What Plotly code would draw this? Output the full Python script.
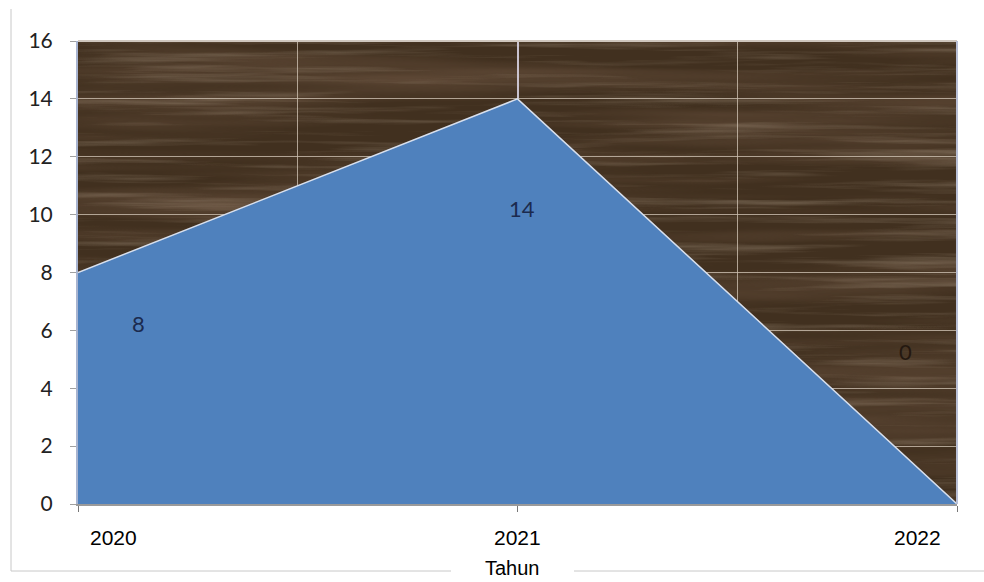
import base64
import plotly.graph_objects as go

# ---- data ----
years = ["2020", "2021", "2022"]
values = [8, 14, 0]
y_ticks = [0, 2, 4, 6, 8, 10, 12, 14, 16]
x_title = "Tahun"

idx = list(range(len(years)))

# wood-grain background as an SVG texture (decoration only)
svg = (
    "<svg xmlns='http://www.w3.org/2000/svg' width='879' height='463' preserveAspectRatio='none'>"
    "<filter id='f' x='0' y='0' width='100%' height='100%'>"
    "<feTurbulence type='fractalNoise' baseFrequency='0.004 0.12' numOctaves='4' seed='7'/>"
    "<feColorMatrix type='matrix' values='0 0 0 0 0.55  0 0 0 0 0.45  0 0 0 0 0.34  2.0 0 0 0 -1.0'/>"
    "</filter>"
    "<filter id='g' x='0' y='0' width='100%' height='100%'>"
    "<feTurbulence type='fractalNoise' baseFrequency='0.002 0.04' numOctaves='3' seed='3'/>"
    "<feColorMatrix type='matrix' values='0 0 0 0 0.12  0 0 0 0 0.07  0 0 0 0 0.04  2.0 0 0 0 -0.8'/>"
    "</filter>"
    "<rect width='879' height='463' fill='#41301f'/>"
    "<rect width='879' height='463' filter='url(#g)' opacity='0.85'/>"
    "<rect width='879' height='463' filter='url(#f)' opacity='0.4'/>"
    "</svg>"
)
img_src = "data:image/svg+xml;base64," + base64.b64encode(svg.encode()).decode()

fig = go.Figure()
fig.add_trace(go.Scatter(
    x=idx, y=values, mode="lines", fill="tozeroy",
    fillcolor="#4f81bd", line=dict(color="#d8e0ee", width=1.5),
    hoverinfo="skip", showlegend=False,
))

# data labels (Excel-style placement offsets)
label_shift = [(60, -51), (4, -110), (-52, 153)]
label_color = ["#1b2a4e", "#1b2a4e", "#241810"]
for i, (v, (dx, dy), c) in enumerate(zip(values, label_shift, label_color)):
    fig.add_annotation(x=idx[i], y=v, text=str(v), showarrow=False,
                       xshift=dx, yshift=dy, xref="x", yref="y",
                       font=dict(family="Lato", size=22, color=c))

# category labels
cat_anchor = [("left", 10), ("center", 0), ("right", -14)]
for i, (name, (anc, dx)) in enumerate(zip(years, cat_anchor)):
    fig.add_annotation(x=idx[i], y=0, text=name, showarrow=False, xref="x", yref="y",
                       xanchor=anc, yanchor="middle", xshift=dx, yshift=-33,
                       font=dict(family="Liberation Sans, Arial", size=21, color="#000000"))

# outer chart border (left and bottom, with a gap for the axis title)
def px(xp):
    return (xp - 78) / 879

def py(yp):
    return (504 - yp) / 463

border = dict(color="#c8c8c8", width=1)
fig.add_shape(type="line", xref="paper", yref="paper",
              x0=px(11), x1=px(11), y0=py(9), y1=py(571), line=border)
fig.add_shape(type="line", xref="paper", yref="paper",
              x0=px(11), x1=px(451), y0=py(571), y1=py(571), line=border)
fig.add_shape(type="line", xref="paper", yref="paper",
              x0=px(574), x1=px(984), y0=py(571), y1=py(571), line=border)

fig.add_annotation(x=px(512), y=py(568), xref="paper", yref="paper", text=x_title,
                   showarrow=False, yanchor="middle",
                   font=dict(family="Liberation Sans, Arial", size=20, color="#000000"))

fig.add_layout_image(dict(source=img_src, xref="paper", yref="paper", x=0, y=1,
                          sizex=1, sizey=1, sizing="stretch", xanchor="left",
                          yanchor="top", layer="below"))

fig.update_layout(
    width=984, height=582,
    margin=dict(l=78, r=27, t=41, b=78),
    paper_bgcolor="#ffffff", plot_bgcolor="rgba(0,0,0,0)",
    xaxis=dict(range=[0, 2], tickvals=idx, showticklabels=False,
               showgrid=True, gridcolor="rgba(215,210,225,0.9)", gridwidth=1.5,
               minor=dict(tickvals=[0.5, 1.5], showgrid=True, gridcolor="rgba(205,192,178,0.8)", gridwidth=1),
               ticks="outside", ticklen=6, tickcolor="#777777",
               showline=True, linecolor="#9a9a9a", linewidth=2, mirror=False,
               zeroline=False, fixedrange=True),
    yaxis=dict(range=[0, 16], tickvals=y_ticks, showgrid=True,
               gridcolor="rgba(205,192,178,0.8)", gridwidth=1,
               ticks="outside", ticklen=6, tickcolor="#a0a0a0",
               ticklabelstandoff=13,
               tickfont=dict(family="Lato", size=21, color="#222222"),
               showline=True, linecolor="#a8b4d0", linewidth=2,
               zeroline=False, fixedrange=True),
)
# top and right frame of plot area
fig.add_shape(type="line", xref="paper", yref="paper", x0=0, x1=1, y0=1, y1=1,
              line=dict(color="#cfc6bd", width=2))
fig.add_shape(type="line", xref="paper", yref="paper", x0=1, x1=1, y0=0, y1=1,
              line=dict(color="#b8bfd6", width=2))

fig.write_html("out.html")
